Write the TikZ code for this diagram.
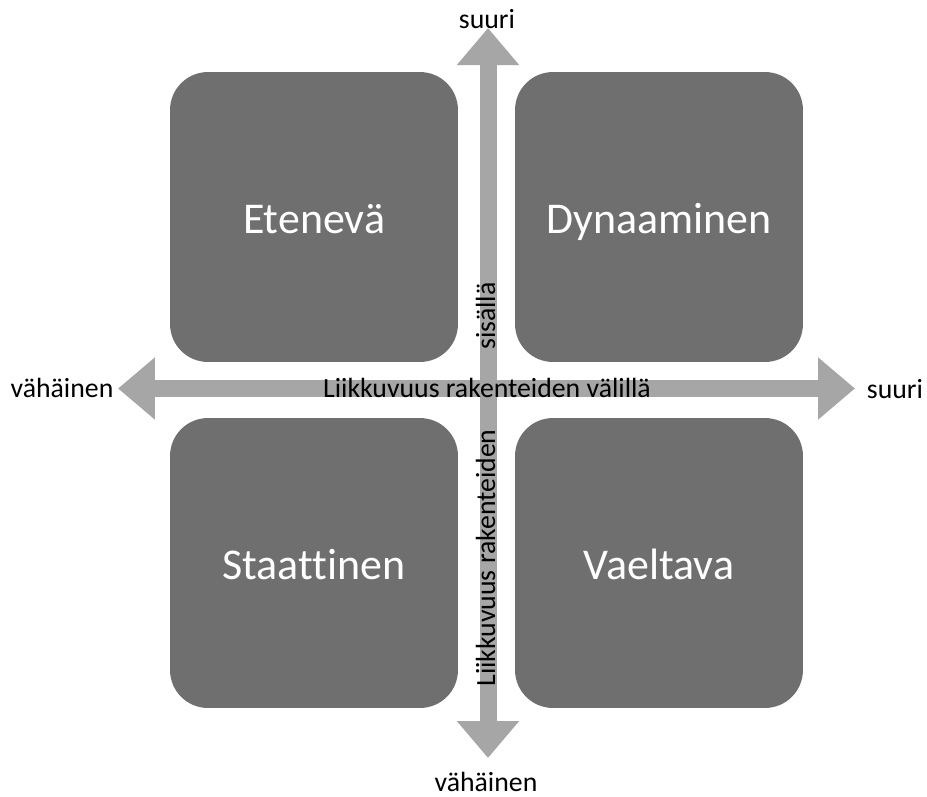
\documentclass[tikz,border=0pt]{standalone}
\usepackage{fontspec}
\setmainfont[Ligatures=NoCommon]{Carlito}
\usepackage{tikz}
\usetikzlibrary{arrows.meta}

\definecolor{boxgray}{HTML}{6F6F6F}
\definecolor{axisgray}{HTML}{A6A6A6}

\begin{document}
\begin{tikzpicture}[x=0.02cm,y=-0.02cm]
    \tikzstyle{axis} = [line width=0.34cm,draw=axisgray,{Triangle[width=1.2cm,length=0.74cm]}-{Triangle[width=1.2cm,length=0.74cm]}]
    \tikzstyle{box}=[
      rectangle,
      fill=boxgray,
      rounded corners=0.76cm,
      minimum width=5.76cm,
      minimum height=5.8cm,
      text=white,
    ]
    \tikzstyle{boxtext}=[text=white,anchor=base,font=\fontsize{25}{30}\selectfont]
    \tikzstyle{lbl}=[anchor=base,inner sep=0pt,font=\fontsize{15.8}{18}\selectfont]

    \useasboundingbox (0,0) rectangle (927,796);

    % quadrants
    \node[box] (b1) at (314,217) {};
    \node[box] (b2) at (659,217) {};
    \node[box] (b3) at (314,563) {};
    \node[box] (b4) at (659,563) {};

    \node[boxtext] (t1) at (314,233) {Etenevä};
    \node[boxtext] (t2) at (659,233) {Dynaaminen};
    \node[boxtext] (t3) at (314,579) {Staattinen};
    \node[boxtext] (t4) at (659,579) {Vaeltava};

    % axes
    \coordinate (west) at (118,388.5);
    \coordinate (east) at (855,388.5);
    \coordinate (north) at (488,28);
    \coordinate (south) at (488,758);

    \draw[axis] (west)--(east);
    \draw[axis] (south)--(north);

    \node[lbl] (l1) at (487,28) {suuri};
    \node[lbl] (l2) at (486,791) {vähäinen};
    \node[lbl] (l3) at (62,397) {vähäinen};
    \node[lbl] (l4) at (895,398) {suuri};
    \node[lbl] (l5) at (487,397) {Liikkuvuus rakenteiden välillä};
    \node[lbl,rotate=90] (l6) at (495,558) {Liikkuvuus rakenteiden};
    \node[lbl,rotate=90] (l7) at (495,316) {sisällä};
  \end{tikzpicture}
\end{document}
